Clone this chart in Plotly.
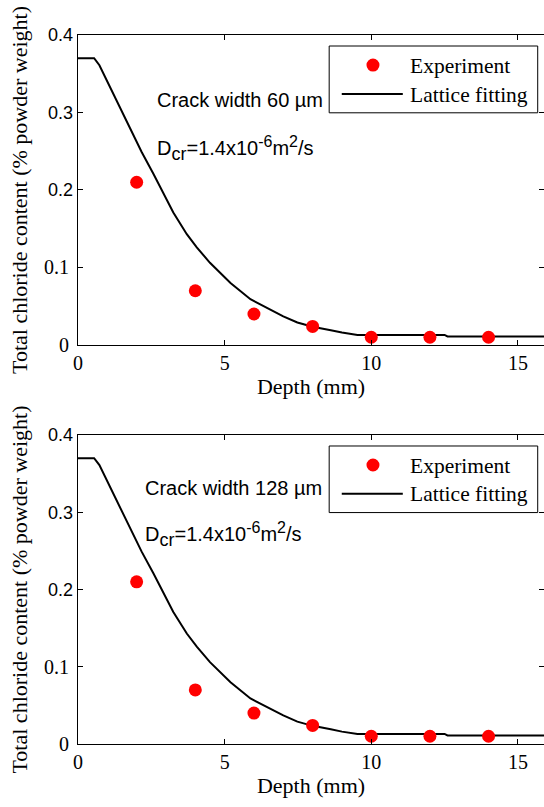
import plotly.graph_objects as go

# ---------------- data ----------------
depth_exp = [2, 4, 6, 8, 10, 12, 14]
chloride_exp_60 = [0.21, 0.07, 0.04, 0.024, 0.01, 0.01, 0.01]
chloride_exp_128 = [0.21, 0.07, 0.04, 0.024, 0.01, 0.01, 0.01]

depth_fit = [0, 0.55, 0.73, 1.13, 1.47, 1.92, 2.17, 2.57, 2.91, 3.25, 3.71, 4.05, 4.5,
             5.2, 5.88, 6.56, 7.0, 7.48, 8.0, 8.62, 9.0, 9.53, 10.0, 12.5, 12.6, 16.0]
chloride_fit_60 = [0.37, 0.37, 0.361, 0.330, 0.303, 0.267, 0.249, 0.221, 0.196, 0.171,
                   0.143, 0.126, 0.106, 0.080, 0.059, 0.046, 0.037, 0.029, 0.0235,
                   0.019, 0.016, 0.013, 0.013, 0.013, 0.011, 0.011]
chloride_fit_128 = list(chloride_fit_60)

# lower y ticks are set in a serif face, upper ones in a sans face (as in the original)
y_tick_vals_serif = [0, 0.1]
y_tick_labels_serif = ["0", "0.1"]
y_tick_vals_sans = [0.2, 0.3, 0.4]
y_tick_labels_sans = ["0.2", "0.3", "0.4"]
x_tick_vals = [0, 5, 10, 15]
x_tick_labels = ["0", "5", "10", "15"]

panel_labels = ["Crack width 60 µm", "Crack width 128 µm"]
diff_label = ('D<sub><span style="font-size:18px">cr</span></sub>=1.4x10'
              '<sup><span style="font-size:16px">-6</span></sup>m'
              '<sup><span style="font-size:16px">2</span></sup>/s')
legend_labels = ["Experiment", "Lattice fitting"]
x_title = "Depth (mm)"
y_title = "Total chloride content (% powder weight)"

SERIF = "Liberation Serif"
SANS = "Liberation Sans"

fig = go.Figure()

panels = [
    dict(exp=chloride_exp_60, fit=chloride_fit_60, xa="x", ya="y", ya_over="y3",
         label=panel_labels[0], lx=2.63, ly1=0.316, ly2=0.254),
    dict(exp=chloride_exp_128, fit=chloride_fit_128, xa="x2", ya="y2", ya_over="y4",
         label=panel_labels[1], lx=2.23, ly1=0.331, ly2=0.271),
]

for p in panels:
    fig.add_trace(go.Scatter(x=depth_fit, y=p["fit"], mode="lines",
                             line=dict(color="black", width=2),
                             xaxis=p["xa"], yaxis=p["ya"], showlegend=False))
    fig.add_trace(go.Scatter(x=depth_exp, y=p["exp"], mode="markers",
                             marker=dict(color="#ff0000", size=13, line=dict(width=0)),
                             xaxis=p["xa"], yaxis=p["ya"], showlegend=False))
    # empty trace so the overlaid (sans-label) y axis gets its own subplot
    fig.add_trace(go.Scatter(x=[], y=[], mode="markers", xaxis=p["xa"],
                             yaxis=p["ya_over"], showlegend=False, hoverinfo="skip"))

axis_common = dict(linecolor="black", linewidth=1, ticks="inside",
                   ticklen=5, tickcolor="black", showgrid=False, zeroline=False,
                   mirror="ticks")

def xaxis_cfg(anchor):
    return dict(axis_common, showline=True, range=[0, 15.89], tickvals=x_tick_vals,
                ticktext=x_tick_labels,
                tickfont=dict(family=SERIF, size=20, color="black"), anchor=anchor,
                title=dict(text=x_title, font=dict(family=SERIF, size=22, color="black"),
                           standoff=1))

def yaxis_cfg(anchor, domain):
    return dict(axis_common, showline=True, range=[0, 0.4], tickvals=y_tick_vals_serif,
                ticktext=y_tick_labels_serif,
                tickfont=dict(family=SERIF, size=20, color="black"), anchor=anchor,
                domain=domain, ticklabelstandoff=4,
                title=dict(text=y_title, font=dict(family=SERIF, size=22, color="black"),
                           standoff=10))

def yaxis_over_cfg(anchor, overlay):
    return dict(axis_common, showline=False, range=[0, 0.4], tickvals=y_tick_vals_sans,
                ticktext=y_tick_labels_sans, side="left", overlaying=overlay,
                tickfont=dict(family=SANS, size=18, color="black"), anchor=anchor,
                ticklabelstandoff=4)

annotations = []
shapes = []
for p in panels:
    xa, ya = p["xa"], p["ya"]
    annotations.append(dict(x=p["lx"], y=p["ly1"], xref=xa, yref=ya, text=p["label"],
                            showarrow=False, xanchor="left", yanchor="middle",
                            font=dict(family=SANS, size=20, color="black")))
    annotations.append(dict(x=p["lx"], y=p["ly2"], xref=xa, yref=ya, text=diff_label,
                            showarrow=False, xanchor="left", yanchor="middle",
                            font=dict(family=SANS, size=20, color="black")))
    # legend box drawn manually to match the original layout
    xd, yd = xa + " domain", ya + " domain"
    shapes.append(dict(type="rect", xref=xd, yref=yd, x0=0.539, x1=0.9865, y0=0.749,
                       y1=0.9645, line=dict(color="black", width=1), fillcolor="white",
                       layer="above"))
    shapes.append(dict(type="circle", xref=xd, yref=yd, xsizemode="pixel",
                       ysizemode="pixel", xanchor=0.633, yanchor=0.903,
                       x0=-6.5, x1=6.5, y0=-6.5, y1=6.5, fillcolor="#ff0000",
                       line=dict(width=0), layer="above"))
    shapes.append(dict(type="line", xref=xd, yref=yd, x0=0.566, x1=0.697, y0=0.81,
                       y1=0.81, line=dict(color="black", width=2), layer="above"))
    annotations.append(dict(x=0.709, y=0.9, xref=xd, yref=yd, text=legend_labels[0],
                            showarrow=False, xanchor="left", yanchor="middle",
                            font=dict(family=SERIF, size=21.5, color="black")))
    annotations.append(dict(x=0.709, y=0.808, xref=xd, yref=yd, text=legend_labels[1],
                            showarrow=False, xanchor="left", yanchor="middle",
                            font=dict(family=SERIF, size=21.5, color="black")))

fig.update_layout(
    template="none",
    font=dict(family=SERIF, size=20, color="black"),
    width=544, height=807,
    margin=dict(l=78, r=0, t=35, b=63, autoexpand=False),
    paper_bgcolor="white", plot_bgcolor="white",
    showlegend=False,
    xaxis=xaxis_cfg("y"),
    yaxis=yaxis_cfg("x", [0.5628, 1.0]),
    xaxis2=xaxis_cfg("y2"),
    yaxis2=yaxis_cfg("x2", [0.0, 0.4358]),
    yaxis3=yaxis_over_cfg("x", "y"),
    yaxis4=yaxis_over_cfg("x2", "y2"),
    annotations=annotations,
    shapes=shapes,
)

fig.write_html("out.html")
